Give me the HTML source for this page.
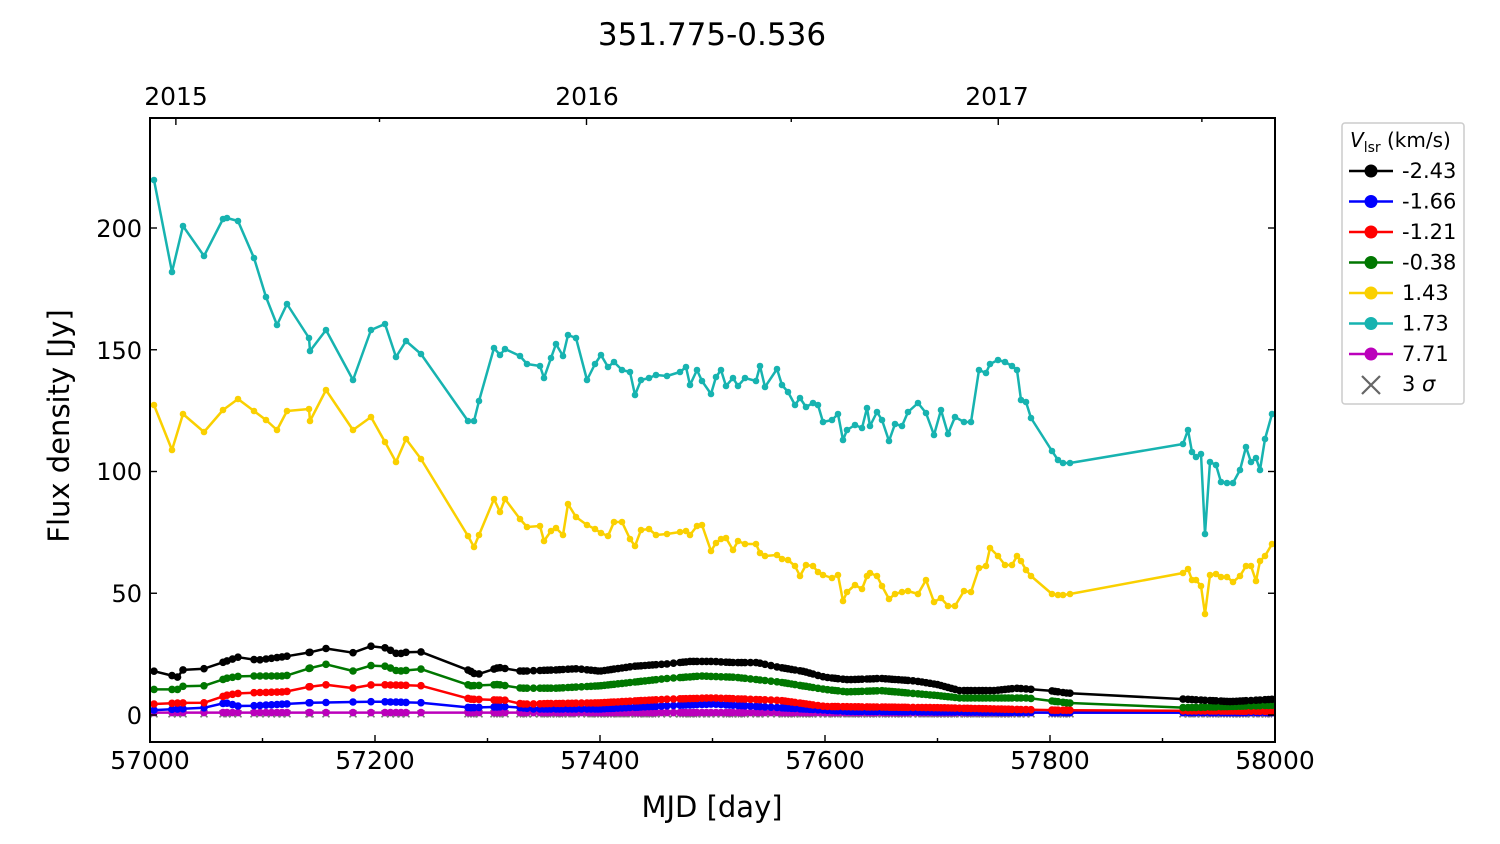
<!DOCTYPE html>
<html><head><meta charset="utf-8"><style>
html,body{margin:0;padding:0;background:#fff;}
svg{display:block;font-family:"DejaVu Sans","Liberation Sans",sans-serif;}
</style></head><body>
<svg id="s" width="1500" height="844" viewBox="0 0 1500 844" xmlns="http://www.w3.org/2000/svg">
<rect width="1500" height="844" fill="#fff"/>
<text x="712" y="45" font-size="31" text-anchor="middle">351.775-0.536</text>
<g id="data"></g>
<rect x="150" y="118" width="1125" height="624" fill="none" stroke="#000" stroke-width="2"/>
<g id="ticks" stroke="#000" stroke-width="1.4"></g>
<g font-size="25" text-anchor="middle">
<text x="150" y="769">57000</text><text x="375" y="769">57200</text><text x="600" y="769">57400</text>
<text x="825" y="769">57600</text><text x="1050" y="769">57800</text><text x="1275" y="769">58000</text>
<text x="176" y="105">2015</text><text x="587" y="105">2016</text><text x="997" y="105">2017</text>
</g>
<g font-size="24" text-anchor="end">
<text x="142" y="724">0</text><text x="142" y="602">50</text><text x="142" y="480">100</text>
<text x="142" y="359">150</text><text x="142" y="237">200</text>
</g>
<text x="712" y="817" font-size="29" text-anchor="middle">MJD [day]</text>
<text transform="translate(69,426) rotate(-90)" font-size="29" text-anchor="middle">Flux density [Jy]</text>
<g>
<rect x="1342" y="123" width="122" height="281" rx="3" fill="#fff" stroke="#ccc" stroke-width="1.5"/>
<text x="1350" y="147" font-size="20"><tspan font-style="italic">V</tspan><tspan font-size="14" dy="5">lsr</tspan><tspan dy="-5"> (km/s)</tspan></text>
<g id="leg" font-size="21"></g>
</g>
</svg>
<script>
const ns="http://www.w3.org/2000/svg";
function el(t,a,p){const e=document.createElementNS(ns,t);for(const k in a)e.setAttribute(k,a[k]);p.appendChild(e);return e;}
const X=m=>150+(m-57000)*1.125, Y=v=>715-v*2.435;
const cy=[[154,180],[172,272],[183,226],[204,256],[223,219],[227,218],[238,221],[254,258],[266,297],[277,325],[287,304],[309,338],[310,351],[326,330],[353,380],[371,330],[385,324],[396,357],[406,341],[421,354],[468,421],[474,421],[479,401],[494,348],[500,355],[505,349],[520,356],[527,364],[540,366],[544,378],[551,358],[556,344],[563,356],[568,335],[576,338],[587,380],[595,364],[601,355],[608,367],[614,362],[622,370],[630,372],[635,395],[641,380],[649,378],[656,375],[667,376],[680,372],[686,367],[690,385],[697,370],[702,381],[711,394],[716,377],[721,370],[726,386],[733,378],[738,386],[745,378],[756,381],[760,366],[765,387],[777,369],[782,385],[788,392],[795,405],[800,398],[806,407],[813,403],[818,405],[823,422],[832,420],[838,414],[843,440],[847,430],[855,425],[862,428],[867,408],[870,426],[877,412],[882,420],[889,441],[895,424],[902,426],[908,412],[918,403],[926,413],[934,435],[941,410],[948,434],[955,417],[964,422],[971,422],[979,370],[986,373],[990,364],[998,360],[1005,362],[1012,366],[1017,370],[1021,400],[1026,402],[1031,418],[1052,451],[1058,460],[1063,463],[1070,463],[1183,444],[1188,430],[1192,452],[1196,457],[1201,454],[1205,534],[1210,462],[1216,465],[1221,482],[1227,483],[1233,483],[1240,470],[1246,447],[1251,462],[1256,458],[1260,470],[1265,439],[1272,414]];
const ye=[[154,405],[172,450],[183,414],[204,432],[223,410],[238,399],[254,411],[266,420],[277,430],[287,411],[309,409],[310,421],[326,390],[353,430],[371,417],[385,442],[396,462],[406,439],[421,459],[468,536],[474,547],[479,535],[494,499],[500,512],[505,499],[520,519],[527,527],[540,526],[544,541],[551,531],[556,528],[563,535],[568,504],[576,517],[587,525],[595,529],[601,533],[608,536],[614,522],[622,522],[630,539],[635,546],[641,530],[649,529],[656,535],[667,534],[680,532],[686,531],[690,535],[697,526],[702,525],[711,551],[716,543],[721,539],[726,538],[733,550],[738,541],[745,544],[756,544],[760,553],[765,556],[777,555],[782,559],[788,560],[795,566],[800,576],[806,565],[813,566],[818,572],[823,575],[832,578],[838,575],[843,601],[847,592],[855,585],[862,589],[867,576],[870,573],[877,576],[882,586],[889,599],[895,594],[902,592],[908,591],[918,594],[926,580],[934,602],[941,598],[948,606],[955,606],[964,591],[971,592],[979,568],[986,566],[990,548],[998,556],[1005,565],[1012,565],[1017,556],[1021,561],[1026,570],[1031,576],[1052,594],[1058,595],[1063,595],[1070,594],[1183,573],[1188,569],[1192,580],[1196,580],[1201,586],[1205,614],[1210,575],[1216,574],[1221,577],[1227,577],[1233,582],[1240,576],[1246,566],[1251,566],[1256,581],[1260,561],[1265,556],[1272,544]];
let xs=cy.map(p=>p[0]);
let dx=[];for(let i=0;i<xs.length;i++){dx.push(xs[i]);if(i<xs.length-1&&xs[i+1]-xs[i]<14&&xs[i+1]-xs[i]>5)dx.push((xs[i]+xs[i+1])/2);}
function interp(k,m){if(m<=k[0][0])return k[0][1];for(let i=1;i<k.length;i++){if(m<=k[i][0]){const a=k[i-1],b=k[i];return a[1]+(b[1]-a[1])*(m-a[0])/(b[0]-a[0]);}}return k[k.length-1][1];}
const bk=[[57005,18],[57025,15.5],[57030,19],[57050,19],[57067,22],[57080,24],[57095,22.5],[57120,24],[57140,25.5],[57158,27.5],[57180,25.5],[57198,28.5],[57210,27.5],[57220,25],[57235,26.5],[57245,25.5],[57285,18],[57290,16.5],[57310,19.5],[57330,18],[57360,18.5],[57380,19],[57400,18],[57430,20],[57460,21],[57480,22],[57500,22],[57520,21.5],[57540,21.5],[57560,19.5],[57580,18],[57600,15.5],[57620,14.5],[57650,15],[57680,14],[57700,12.5],[57720,10],[57750,10],[57770,11],[57800,10],[57815,9],[57920,6.5],[57960,5.5],[58000,6.5]];
const gr=[[57005,10.5],[57025,10.5],[57030,12],[57050,12],[57067,15],[57080,16],[57120,16],[57140,19],[57158,21],[57180,18],[57198,20.5],[57210,20],[57220,18],[57245,19],[57285,12],[57310,12.5],[57330,11],[57360,11],[57400,12],[57430,13.5],[57460,15],[57490,16],[57520,15.5],[57560,13.5],[57600,10.5],[57620,9.5],[57650,10],[57700,8],[57720,7],[57780,7],[57815,5],[57920,3],[58000,4]];
const rd=[[57005,4.5],[57030,5],[57050,5],[57067,8],[57080,9],[57120,9.5],[57140,11.5],[57158,12.5],[57180,11],[57198,12.5],[57245,12],[57285,6.5],[57320,6],[57330,4.5],[57400,5],[57460,6.5],[57500,7],[57560,6],[57600,3.5],[57700,3],[57800,2],[58000,1.5]];
const bl=[[57005,2],[57050,3],[57067,5],[57080,3.5],[57140,5],[57200,5.5],[57245,5],[57285,3],[57320,3.5],[57340,2.5],[57400,2.5],[57470,4],[57500,4.5],[57560,3],[57620,1.5],[57800,1],[58000,1]];
const mg=[[57000,1],[58000,1]];
const D=document.getElementById("data");
function series(pts,col,r){el("polyline",{points:pts.map(p=>p.join(",")).join(" "),fill:"none",stroke:col,"stroke-width":2.5,"stroke-linejoin":"round"},D);pts.forEach(p=>el("circle",{cx:p[0],cy:p[1],r:r,fill:col},D));}
function low(k){return dx.map(x=>{const m=57000+(x-150)/1.125;return [x,(Y(interp(k,m))).toFixed(1)];});}
dx.forEach(x=>{const y=Y(0.5);el("path",{d:`M${x-3.5},${y-3.5}L${x+3.5},${y+3.5}M${x-3.5},${y+3.5}L${x+3.5},${y-3.5}`,stroke:"#777","stroke-width":1.6},D);});
series(low(mg),"#b0b",3.8);
series(low(bl),"#00f",3.8);
series(low(rd),"#f00",3.8);
series(low(gr),"#070",3.8);
series(low(bk),"#000",3.8);
series(ye,"#fad000",3.3);
series(cy,"#17b3b0",3.3);
const T=document.getElementById("ticks");
for(let m=57000;m<=58000;m+=100){const x=X(m),l=(m%200==0)?7:4;el("line",{x1:x,y1:742,x2:x,y2:742-l},T);}
[57023,57388,57754].forEach(m=>{const x=X(m);el("line",{x1:x,y1:118,x2:x,y2:125},T);});
[57204,57570,57935].forEach(m=>{const x=X(m);el("line",{x1:x,y1:118,x2:x,y2:122},T);});
for(let v=0;v<=200;v+=50){const y=Y(v);el("line",{x1:150,y1:y,x2:157,y2:y},T);el("line",{x1:1275,y1:y,x2:1268,y2:y},T);}
const L=document.getElementById("leg");
const items=[["-2.43","#000"],["-1.66","#00f"],["-1.21","#f00"],["-0.38","#070"],["1.43","#fad000"],["1.73","#17b3b0"],["7.71","#b0b"]];
items.forEach((it,i)=>{const y=171+i*30.5;el("line",{x1:1349,y1:y,x2:1393,y2:y,stroke:it[1],"stroke-width":2.5},L);el("circle",{cx:1371,cy:y,r:6.5,fill:it[1]},L);const t=el("text",{x:1402,y:y+7},L);t.textContent=it[0];});
{const y=385;el("path",{d:`M1362,${y-9}L1380,${y+9}M1362,${y+9}L1380,${y-9}`,stroke:"#666","stroke-width":2.2},L);const t=el("text",{x:1402,y:y+6},L);t.innerHTML='3 <tspan font-style="italic">σ</tspan>';}
</script>
</body></html>
